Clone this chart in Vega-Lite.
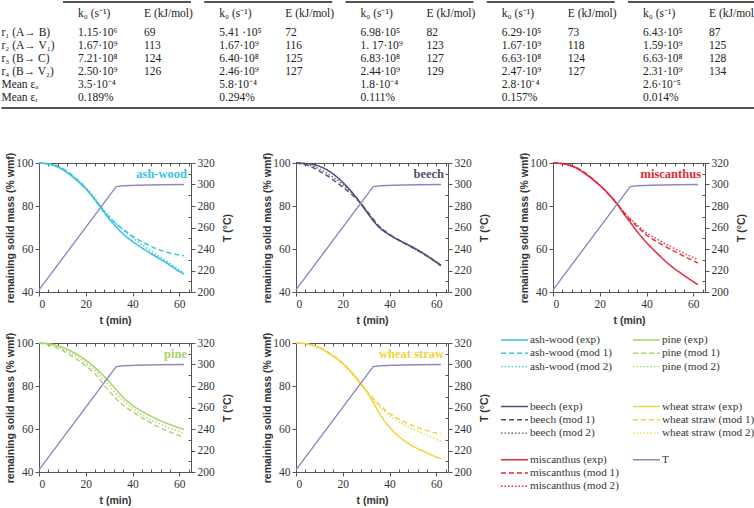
{
"$schema":"https://vega.github.io/schema/vega-lite/v6.json",
"padding":0,
"background":"white",
"columns":3,
"spacing":{"row":51,"column":105},
"bounds":"flush",
"align":"each",
"datasets":{
"curves":[
{"b":"ash-wood","t":0,"exp":100,"mod1":100,"mod2":100},{"b":"ash-wood","t":5,"exp":99.3,"mod1":99.5,"mod2":99.4},{"b":"ash-wood","t":10,"exp":97,"mod1":97.5,"mod2":97.4},{"b":"ash-wood","t":15,"exp":93,"mod1":93.5,"mod2":93.5},{"b":"ash-wood","t":20,"exp":88,"mod1":88.3,"mod2":88.6},{"b":"ash-wood","t":25,"exp":81.5,"mod1":81.2,"mod2":82},{"b":"ash-wood","t":28,"exp":77,"mod1":77,"mod2":77.8},{"b":"ash-wood","t":30,"exp":74,"mod1":74.8,"mod2":75.3},{"b":"ash-wood","t":33,"exp":70.3,"mod1":71.8,"mod2":71.8},{"b":"ash-wood","t":35,"exp":68,"mod1":70,"mod2":69.8},{"b":"ash-wood","t":40,"exp":63.5,"mod1":66,"mod2":65.3},{"b":"ash-wood","t":45,"exp":59.8,"mod1":62.8,"mod2":61.2},{"b":"ash-wood","t":50,"exp":56.5,"mod1":60.2,"mod2":57.5},{"b":"ash-wood","t":55,"exp":53.2,"mod1":58.4,"mod2":54},{"b":"ash-wood","t":60,"exp":49.6,"mod1":57.2,"mod2":50.3},{"b":"ash-wood","t":62,"exp":48.4,"mod1":56.9,"mod2":49},
{"b":"beech","t":0,"exp":100,"mod1":100,"mod2":100},{"b":"beech","t":5,"exp":99.7,"mod1":98.9,"mod2":99.3},{"b":"beech","t":10,"exp":98.5,"mod1":96.2,"mod2":97.2},{"b":"beech","t":15,"exp":95.6,"mod1":92.8,"mod2":94},{"b":"beech","t":20,"exp":91,"mod1":88.8,"mod2":90},{"b":"beech","t":25,"exp":85,"mod1":84.2,"mod2":84.8},{"b":"beech","t":28,"exp":80.7,"mod1":80.8,"mod2":80.9},{"b":"beech","t":30,"exp":77.6,"mod1":78.2,"mod2":77.9},{"b":"beech","t":33,"exp":73.2,"mod1":74,"mod2":73.5},{"b":"beech","t":35,"exp":70.7,"mod1":71.2,"mod2":70.9},{"b":"beech","t":40,"exp":66.6,"mod1":66.8,"mod2":66.6},{"b":"beech","t":45,"exp":63.6,"mod1":63.5,"mod2":63.4},{"b":"beech","t":50,"exp":60.8,"mod1":60.5,"mod2":60.6},{"b":"beech","t":55,"exp":57.6,"mod1":57.4,"mod2":57.5},{"b":"beech","t":60,"exp":54,"mod1":53.8,"mod2":53.6},{"b":"beech","t":62,"exp":52.5,"mod1":52.2,"mod2":52},
{"b":"miscanthus","t":0,"exp":100,"mod1":100,"mod2":100},{"b":"miscanthus","t":5,"exp":99.5,"mod1":99.6,"mod2":99.6},{"b":"miscanthus","t":10,"exp":97.6,"mod1":97.8,"mod2":97.8},{"b":"miscanthus","t":15,"exp":94,"mod1":94.3,"mod2":94.3},{"b":"miscanthus","t":20,"exp":89.6,"mod1":89.6,"mod2":89.8},{"b":"miscanthus","t":25,"exp":84,"mod1":84,"mod2":84.2},{"b":"miscanthus","t":28,"exp":80,"mod1":80.2,"mod2":80.4},{"b":"miscanthus","t":30,"exp":76.8,"mod1":77.4,"mod2":77.6},{"b":"miscanthus","t":33,"exp":72.5,"mod1":73.7,"mod2":74.2},{"b":"miscanthus","t":35,"exp":69.5,"mod1":71.5,"mod2":72.2},{"b":"miscanthus","t":40,"exp":63,"mod1":66.5,"mod2":67.5},{"b":"miscanthus","t":45,"exp":57.5,"mod1":63,"mod2":64.3},{"b":"miscanthus","t":50,"exp":52.5,"mod1":60,"mod2":61.3},{"b":"miscanthus","t":55,"exp":48.5,"mod1":57.2,"mod2":58.6},{"b":"miscanthus","t":60,"exp":44.8,"mod1":54.5,"mod2":56},{"b":"miscanthus","t":62,"exp":43.4,"mod1":53.5,"mod2":55},
{"b":"pine","t":0,"exp":100,"mod1":100,"mod2":100},{"b":"pine","t":5,"exp":99.5,"mod1":98.8,"mod2":99.2},{"b":"pine","t":10,"exp":98,"mod1":96.5,"mod2":97.3},{"b":"pine","t":15,"exp":95.5,"mod1":93.2,"mod2":94.4},{"b":"pine","t":20,"exp":92,"mod1":89.4,"mod2":90.8},{"b":"pine","t":25,"exp":87.5,"mod1":84.3,"mod2":86},{"b":"pine","t":28,"exp":84.3,"mod1":80.2,"mod2":82.2},{"b":"pine","t":30,"exp":82,"mod1":77.6,"mod2":80},{"b":"pine","t":33,"exp":78.3,"mod1":74,"mod2":76.3},{"b":"pine","t":35,"exp":75.8,"mod1":72,"mod2":74.2},{"b":"pine","t":40,"exp":71,"mod1":68,"mod2":69.7},{"b":"pine","t":45,"exp":67.6,"mod1":64.6,"mod2":66},{"b":"pine","t":50,"exp":64.8,"mod1":61.6,"mod2":63.2},{"b":"pine","t":55,"exp":62.5,"mod1":59.1,"mod2":60.8},{"b":"pine","t":60,"exp":60.5,"mod1":56.9,"mod2":58.8},{"b":"pine","t":62,"exp":59.8,"mod1":56.1,"mod2":58.2},
{"b":"wheat straw","t":0,"exp":100,"mod1":100,"mod2":100},{"b":"wheat straw","t":5,"exp":99.5,"mod1":99.6,"mod2":99.5},{"b":"wheat straw","t":10,"exp":97.8,"mod1":98,"mod2":97.9},{"b":"wheat straw","t":15,"exp":94.5,"mod1":94.8,"mod2":94.6},{"b":"wheat straw","t":20,"exp":90.5,"mod1":90.6,"mod2":90.4},{"b":"wheat straw","t":25,"exp":84.8,"mod1":84.6,"mod2":84.3},{"b":"wheat straw","t":28,"exp":80.8,"mod1":80.6,"mod2":80.2},{"b":"wheat straw","t":30,"exp":77.8,"mod1":78,"mod2":77.5},{"b":"wheat straw","t":33,"exp":72.5,"mod1":74.3,"mod2":73.6},{"b":"wheat straw","t":35,"exp":68.5,"mod1":72,"mod2":71.2},{"b":"wheat straw","t":40,"exp":60.8,"mod1":67.3,"mod2":66.3},{"b":"wheat straw","t":45,"exp":55.6,"mod1":64,"mod2":62.7},{"b":"wheat straw","t":50,"exp":52,"mod1":61.6,"mod2":60},{"b":"wheat straw","t":55,"exp":49.4,"mod1":59.6,"mod2":57.6},{"b":"wheat straw","t":60,"exp":47,"mod1":58.1,"mod2":55.2},{"b":"wheat straw","t":62,"exp":46.2,"mod1":57.7,"mod2":54.3}
],
"temp":[{"t":0,"T":202},{"t":33,"T":298},{"t":36,"T":298.8},{"t":42,"T":299.3},{"t":52,"T":299.7},{"t":62,"T":300}],
"legend":[
{"lab":"ash-wood (exp)","b":"ash-wood","m":"exp","c":0,"r":0},{"lab":"ash-wood (mod 1)","b":"ash-wood","m":"mod1","c":0,"r":1},{"lab":"ash-wood (mod 2)","b":"ash-wood","m":"mod2","c":0,"r":2},
{"lab":"beech (exp)","b":"beech","m":"exp","c":0,"r":5},{"lab":"beech (mod 1)","b":"beech","m":"mod1","c":0,"r":6},{"lab":"beech (mod 2)","b":"beech","m":"mod2","c":0,"r":7},
{"lab":"miscanthus (exp)","b":"miscanthus","m":"exp","c":0,"r":9},{"lab":"miscanthus (mod 1)","b":"miscanthus","m":"mod1","c":0,"r":10},{"lab":"miscanthus (mod 2)","b":"miscanthus","m":"mod2","c":0,"r":11},
{"lab":"pine (exp)","b":"pine","m":"exp","c":1,"r":0},{"lab":"pine (mod 1)","b":"pine","m":"mod1","c":1,"r":1},{"lab":"pine (mod 2)","b":"pine","m":"mod2","c":1,"r":2},
{"lab":"wheat straw (exp)","b":"wheat straw","m":"exp","c":1,"r":5},{"lab":"wheat straw (mod 1)","b":"wheat straw","m":"mod1","c":1,"r":6},{"lab":"wheat straw (mod 2)","b":"wheat straw","m":"mod2","c":1,"r":7},
{"lab":"T","b":"T","m":"exp","c":1,"r":9}
],
"groups":[{"g":0},{"g":1},{"g":2},{"g":3},{"g":4}],
"rowlab":[{"r":1,"text":"r₁ (A→ B)"},{"r":2,"text":"r₂ (A→ V₁)"},{"r":3,"text":"r₃ (B→ C)"},{"r":4,"text":"r₄ (B→ V₂)"},{"r":5,"text":"Mean εₐ"},{"r":6,"text":"Mean εᵣ"}],
"cells":[
{"r":1,"g":0,"k":"1.15·10⁶","e":"69"},{"r":1,"g":1,"k":"5.41 ·10⁵","e":"72"},{"r":1,"g":2,"k":"6.98·10⁵","e":"82"},{"r":1,"g":3,"k":"6.29·10⁵","e":"73"},{"r":1,"g":4,"k":"6.43·10⁵","e":"87"},
{"r":2,"g":0,"k":"1.67·10⁹","e":"113"},{"r":2,"g":1,"k":"1.67·10⁹","e":"116"},{"r":2,"g":2,"k":"1. 17·10⁹","e":"123"},{"r":2,"g":3,"k":"1.67·10⁹","e":"118"},{"r":2,"g":4,"k":"1.59·10⁹","e":"125"},
{"r":3,"g":0,"k":"7.21·10⁸","e":"124"},{"r":3,"g":1,"k":"6.40·10⁸","e":"125"},{"r":3,"g":2,"k":"6.83·10⁸","e":"127"},{"r":3,"g":3,"k":"6.63·10⁸","e":"124"},{"r":3,"g":4,"k":"6.63·10⁸","e":"128"},
{"r":4,"g":0,"k":"2.50·10⁹","e":"126"},{"r":4,"g":1,"k":"2.46·10⁹","e":"127"},{"r":4,"g":2,"k":"2.44·10⁹","e":"129"},{"r":4,"g":3,"k":"2.47·10⁹","e":"127"},{"r":4,"g":4,"k":"2.31·10⁹","e":"134"},
{"r":5,"g":0,"k":"3.5·10⁻⁴","e":""},{"r":5,"g":1,"k":"5.8·10⁻⁴","e":""},{"r":5,"g":2,"k":"1.8·10⁻⁴","e":""},{"r":5,"g":3,"k":"2.8·10⁻⁴","e":""},{"r":5,"g":4,"k":"2.6·10⁻⁵","e":""},
{"r":6,"g":0,"k":"0.189%","e":""},{"r":6,"g":1,"k":"0.294%","e":""},{"r":6,"g":2,"k":"0.111%","e":""},{"r":6,"g":3,"k":"0.157%","e":""},{"r":6,"g":4,"k":"0.014%","e":""}
]
},
"concat":[
{
"width":152,"height":112,
"view":{"fill":"white","stroke":null},
"layer":[
{"data":{"name":"groups"},"mark":{"type":"rule","x2Offset":128,"strokeWidth":1.8,"color":"#555"},
 "encoding":{"x":{"field":"g","type":"quantitative","scale":{"domain":[0,5],"range":[24,730.25]},"axis":null},"x2":{"field":"g"},"y":{"datum":-1.385,"type":"quantitative","scale":{"domain":[0,7],"range":[20,111]},"axis":null}}},
{"data":{"name":"groups"},"mark":{"type":"text","dx":15,"align":"left","baseline":"middle"},
 "encoding":{"x":{"field":"g","type":"quantitative"},"y":{"datum":-0.46,"type":"quantitative"},"text":{"value":"k₀ (s⁻¹)"}}},
{"data":{"name":"groups"},"mark":{"type":"text","dx":81,"align":"left","baseline":"middle"},
 "encoding":{"x":{"field":"g","type":"quantitative"},"y":{"datum":-0.46,"type":"quantitative"},"text":{"value":"E (kJ/mol)"}}},
{"data":{"name":"cells"},"mark":{"type":"text","dx":15,"align":"left","baseline":"middle"},
 "encoding":{"x":{"field":"g","type":"quantitative"},"y":{"field":"r","type":"quantitative"},"text":{"field":"k"}}},
{"data":{"name":"cells"},"mark":{"type":"text","dx":81,"align":"left","baseline":"middle"},
 "encoding":{"x":{"field":"g","type":"quantitative"},"y":{"field":"r","type":"quantitative"},"text":{"field":"e"}}},
{"data":{"name":"rowlab"},"mark":{"type":"text","align":"left","baseline":"middle"},
 "encoding":{"x":{"datum":-0.436,"type":"quantitative"},"y":{"field":"r","type":"quantitative"},"text":{"field":"text"}}},
{"data":{"values":[{"line":"bottom"}]},"mark":{"type":"rule","strokeWidth":2,"color":"#555"},
 "encoding":{"x":{"datum":-0.436,"type":"quantitative"},"x2":{"datum":4.9},"y":{"datum":6.77,"type":"quantitative"}}}
]
},
{"width":152,"height":112,"data":{"values":[{}]},"mark":{"type":"text","text":""},"encoding":{}},
{"width":152,"height":112,"data":{"values":[{}]},"mark":{"type":"text","text":""},"encoding":{}},
{"width":152,"height":129,
 "layer":[
  {"layer":[
   {"data":{"name":"curves"},"transform":[{"filter":"datum.b === 'ash-wood'"},{"fold":["exp","mod1","mod2"],"as":["m","v"]}],
    "mark":{"type":"line","interpolate":"monotone","strokeWidth":1.6},
    "encoding":{
     "x":{"field":"t","type":"quantitative","scale":{"domain":[0,65],"nice":false,"zero":false},"axis":{"orient":"bottom","values":[0,20,40,60],"tickSize":4,"title":"t (min)","titlePadding":6}},
     "y":{"field":"v","type":"quantitative","scale":{"domain":[40,100],"nice":false,"zero":false},"axis":{"orient":"left","values":[40,45,50,55,60,65,70,75,80,85,90,95,100],"labelOverlap":false,"labelExpr":"datum.value % 20 === 0 ? datum.label : ''","tickSize":{"condition":{"test":"datum.value % 20 === 0","value":4},"value":-3},"title":"remaining solid mass (% wmf)","titlePadding":0}},
     "color":{"field":"b","type":"nominal","scale":{"domain":["ash-wood","beech","miscanthus","pine","wheat straw","T"],"range":["#3cc2e2","#4d4f73","#e3283c","#a6d46a","#efd33a","#9386c2"]},"legend":null},
     "strokeDash":{"field":"m","type":"nominal","scale":{"domain":["exp","mod1","mod2"],"range":[[1,0],[5,3],[1.5,2]]},"legend":null},
     "opacity":{"field":"m","type":"nominal","scale":{"domain":["exp","mod1","mod2"],"range":[1,0.9,0.7]},"legend":null}}},
   {"data":{"values":[{"lab":"ash-wood"}]},"mark":{"type":"text","align":"right","baseline":"middle","dx":-4,"font":"Liberation Serif","fontWeight":"bold","fontSize":12.5},
    "encoding":{"x":{"datum":65,"type":"quantitative"},"y":{"datum":95,"type":"quantitative"},"text":{"field":"lab"},"color":{"field":"lab","type":"nominal","legend":null}}}
  ]},
  {"data":{"name":"temp"},"mark":{"type":"line","color":"#9386c2","strokeWidth":1.4},
   "encoding":{"x":{"field":"t","type":"quantitative","axis":{"orient":"bottom","values":[4,8,12,16,24,28,32,36,44,48,52,56,64],"labels":false,"title":null,"domain":false,"tickSize":-3}},
    "y":{"field":"T","type":"quantitative","scale":{"domain":[200,320],"nice":false,"zero":false},"axis":{"orient":"right","values":[200,210,220,230,240,250,260,270,280,290,300,310,320],"labelOverlap":false,"labelExpr":"datum.value % 20 === 0 ? datum.label : ''","tickSize":{"condition":{"test":"datum.value % 20 === 0","value":4},"value":-3},"title":"T (°C)","titleAngle":270,"titleBaseline":"top","titlePadding":8}}}},
  {"data":{"name":"temp"},"mark":{"type":"line","opacity":0},
   "encoding":{"x":{"field":"t","type":"quantitative","axis":{"orient":"top","values":[0,4,8,12,16,20,24,28,32,36,40,44,48,52,56,60,64],"labels":false,"title":null,"tickSize":-3}},
    "y":{"field":"T","type":"quantitative","scale":{"domain":[200,320],"nice":false,"zero":false},"axis":null}}}
 ],
 "resolve":{"scale":{"y":"independent"},"axis":{"x":"independent"}}},
{"width":152,"height":129,
 "layer":[
  {"layer":[
   {"data":{"name":"curves"},"transform":[{"filter":"datum.b === 'beech'"},{"fold":["exp","mod1","mod2"],"as":["m","v"]}],
    "mark":{"type":"line","interpolate":"monotone","strokeWidth":1.5},
    "encoding":{
     "x":{"field":"t","type":"quantitative","scale":{"domain":[0,65],"nice":false,"zero":false},"axis":{"orient":"bottom","values":[0,20,40,60],"tickSize":4,"title":"t (min)","titlePadding":6}},
     "y":{"field":"v","type":"quantitative","scale":{"domain":[40,100],"nice":false,"zero":false},"axis":{"orient":"left","values":[40,45,50,55,60,65,70,75,80,85,90,95,100],"labelOverlap":false,"labelExpr":"datum.value % 20 === 0 ? datum.label : ''","tickSize":{"condition":{"test":"datum.value % 20 === 0","value":4},"value":-3},"title":"remaining solid mass (% wmf)","titlePadding":0}},
     "color":{"field":"b","type":"nominal","legend":null},
     "strokeDash":{"field":"m","type":"nominal","legend":null},
     "opacity":{"field":"m","type":"nominal","legend":null}}},
   {"data":{"values":[{"lab":"beech"}]},"mark":{"type":"text","align":"right","baseline":"middle","dx":-4,"font":"Liberation Serif","fontWeight":"bold","fontSize":12.5},
    "encoding":{"x":{"datum":65,"type":"quantitative"},"y":{"datum":95,"type":"quantitative"},"text":{"field":"lab"},"color":{"field":"lab","type":"nominal","legend":null}}}
  ]},
  {"data":{"name":"temp"},"mark":{"type":"line","color":"#9386c2","strokeWidth":1.4},
   "encoding":{"x":{"field":"t","type":"quantitative","axis":{"orient":"bottom","values":[4,8,12,16,24,28,32,36,44,48,52,56,64],"labels":false,"title":null,"domain":false,"tickSize":-3}},
    "y":{"field":"T","type":"quantitative","scale":{"domain":[200,320],"nice":false,"zero":false},"axis":{"orient":"right","values":[200,210,220,230,240,250,260,270,280,290,300,310,320],"labelOverlap":false,"labelExpr":"datum.value % 20 === 0 ? datum.label : ''","tickSize":{"condition":{"test":"datum.value % 20 === 0","value":4},"value":-3},"title":"T (°C)","titleAngle":270,"titleBaseline":"top","titlePadding":8}}}},
  {"data":{"name":"temp"},"mark":{"type":"line","opacity":0},
   "encoding":{"x":{"field":"t","type":"quantitative","axis":{"orient":"top","values":[0,4,8,12,16,20,24,28,32,36,40,44,48,52,56,60,64],"labels":false,"title":null,"tickSize":-3}},
    "y":{"field":"T","type":"quantitative","scale":{"domain":[200,320],"nice":false,"zero":false},"axis":null}}}
 ],
 "resolve":{"scale":{"y":"independent"},"axis":{"x":"independent"}}},
{"width":152,"height":129,
 "layer":[
  {"layer":[
   {"data":{"name":"curves"},"transform":[{"filter":"datum.b === 'miscanthus'"},{"fold":["exp","mod1","mod2"],"as":["m","v"]}],
    "mark":{"type":"line","interpolate":"monotone","strokeWidth":1.5},
    "encoding":{
     "x":{"field":"t","type":"quantitative","scale":{"domain":[0,65],"nice":false,"zero":false},"axis":{"orient":"bottom","values":[0,20,40,60],"tickSize":4,"title":"t (min)","titlePadding":6}},
     "y":{"field":"v","type":"quantitative","scale":{"domain":[40,100],"nice":false,"zero":false},"axis":{"orient":"left","values":[40,45,50,55,60,65,70,75,80,85,90,95,100],"labelOverlap":false,"labelExpr":"datum.value % 20 === 0 ? datum.label : ''","tickSize":{"condition":{"test":"datum.value % 20 === 0","value":4},"value":-3},"title":"remaining solid mass (% wmf)","titlePadding":0}},
     "color":{"field":"b","type":"nominal","legend":null},
     "strokeDash":{"field":"m","type":"nominal","legend":null},
     "opacity":{"field":"m","type":"nominal","legend":null}}},
   {"data":{"values":[{"lab":"miscanthus"}]},"mark":{"type":"text","align":"right","baseline":"middle","dx":-4,"font":"Liberation Serif","fontWeight":"bold","fontSize":12.5},
    "encoding":{"x":{"datum":65,"type":"quantitative"},"y":{"datum":95,"type":"quantitative"},"text":{"field":"lab"},"color":{"field":"lab","type":"nominal","legend":null}}}
  ]},
  {"data":{"name":"temp"},"mark":{"type":"line","color":"#9386c2","strokeWidth":1.4},
   "encoding":{"x":{"field":"t","type":"quantitative","axis":{"orient":"bottom","values":[4,8,12,16,24,28,32,36,44,48,52,56,64],"labels":false,"title":null,"domain":false,"tickSize":-3}},
    "y":{"field":"T","type":"quantitative","scale":{"domain":[200,320],"nice":false,"zero":false},"axis":{"orient":"right","values":[200,210,220,230,240,250,260,270,280,290,300,310,320],"labelOverlap":false,"labelExpr":"datum.value % 20 === 0 ? datum.label : ''","tickSize":{"condition":{"test":"datum.value % 20 === 0","value":4},"value":-3},"title":"T (°C)","titleAngle":270,"titleBaseline":"top","titlePadding":8}}}},
  {"data":{"name":"temp"},"mark":{"type":"line","opacity":0},
   "encoding":{"x":{"field":"t","type":"quantitative","axis":{"orient":"top","values":[0,4,8,12,16,20,24,28,32,36,40,44,48,52,56,60,64],"labels":false,"title":null,"tickSize":-3}},
    "y":{"field":"T","type":"quantitative","scale":{"domain":[200,320],"nice":false,"zero":false},"axis":null}}}
 ],
 "resolve":{"scale":{"y":"independent"},"axis":{"x":"independent"}}},
{"width":152,"height":129,
 "layer":[
  {"layer":[
   {"data":{"name":"curves"},"transform":[{"filter":"datum.b === 'pine'"},{"fold":["exp","mod1","mod2"],"as":["m","v"]}],
    "mark":{"type":"line","interpolate":"monotone","strokeWidth":1.5},
    "encoding":{
     "x":{"field":"t","type":"quantitative","scale":{"domain":[0,65],"nice":false,"zero":false},"axis":{"orient":"bottom","values":[0,20,40,60],"tickSize":4,"title":"t (min)","titlePadding":6}},
     "y":{"field":"v","type":"quantitative","scale":{"domain":[40,100],"nice":false,"zero":false},"axis":{"orient":"left","values":[40,45,50,55,60,65,70,75,80,85,90,95,100],"labelOverlap":false,"labelExpr":"datum.value % 20 === 0 ? datum.label : ''","tickSize":{"condition":{"test":"datum.value % 20 === 0","value":4},"value":-3},"title":"remaining solid mass (% wmf)","titlePadding":0}},
     "color":{"field":"b","type":"nominal","legend":null},
     "strokeDash":{"field":"m","type":"nominal","legend":null},
     "opacity":{"field":"m","type":"nominal","legend":null}}},
   {"data":{"values":[{"lab":"pine"}]},"mark":{"type":"text","align":"right","baseline":"middle","dx":-4,"font":"Liberation Serif","fontWeight":"bold","fontSize":12.5},
    "encoding":{"x":{"datum":65,"type":"quantitative"},"y":{"datum":95,"type":"quantitative"},"text":{"field":"lab"},"color":{"field":"lab","type":"nominal","legend":null}}}
  ]},
  {"data":{"name":"temp"},"mark":{"type":"line","color":"#9386c2","strokeWidth":1.4},
   "encoding":{"x":{"field":"t","type":"quantitative","axis":{"orient":"bottom","values":[4,8,12,16,24,28,32,36,44,48,52,56,64],"labels":false,"title":null,"domain":false,"tickSize":-3}},
    "y":{"field":"T","type":"quantitative","scale":{"domain":[200,320],"nice":false,"zero":false},"axis":{"orient":"right","values":[200,210,220,230,240,250,260,270,280,290,300,310,320],"labelOverlap":false,"labelExpr":"datum.value % 20 === 0 ? datum.label : ''","tickSize":{"condition":{"test":"datum.value % 20 === 0","value":4},"value":-3},"title":"T (°C)","titleAngle":270,"titleBaseline":"top","titlePadding":8}}}},
  {"data":{"name":"temp"},"mark":{"type":"line","opacity":0},
   "encoding":{"x":{"field":"t","type":"quantitative","axis":{"orient":"top","values":[0,4,8,12,16,20,24,28,32,36,40,44,48,52,56,60,64],"labels":false,"title":null,"tickSize":-3}},
    "y":{"field":"T","type":"quantitative","scale":{"domain":[200,320],"nice":false,"zero":false},"axis":null}}}
 ],
 "resolve":{"scale":{"y":"independent"},"axis":{"x":"independent"}}},
{"width":152,"height":129,
 "layer":[
  {"layer":[
   {"data":{"name":"curves"},"transform":[{"filter":"datum.b === 'wheat straw'"},{"fold":["exp","mod1","mod2"],"as":["m","v"]}],
    "mark":{"type":"line","interpolate":"monotone","strokeWidth":1.5},
    "encoding":{
     "x":{"field":"t","type":"quantitative","scale":{"domain":[0,65],"nice":false,"zero":false},"axis":{"orient":"bottom","values":[0,20,40,60],"tickSize":4,"title":"t (min)","titlePadding":6}},
     "y":{"field":"v","type":"quantitative","scale":{"domain":[40,100],"nice":false,"zero":false},"axis":{"orient":"left","values":[40,45,50,55,60,65,70,75,80,85,90,95,100],"labelOverlap":false,"labelExpr":"datum.value % 20 === 0 ? datum.label : ''","tickSize":{"condition":{"test":"datum.value % 20 === 0","value":4},"value":-3},"title":"remaining solid mass (% wmf)","titlePadding":0}},
     "color":{"field":"b","type":"nominal","legend":null},
     "strokeDash":{"field":"m","type":"nominal","legend":null},
     "opacity":{"field":"m","type":"nominal","legend":null}}},
   {"data":{"values":[{"lab":"wheat straw"}]},"mark":{"type":"text","align":"right","baseline":"middle","dx":-4,"font":"Liberation Serif","fontWeight":"bold","fontSize":12.5},
    "encoding":{"x":{"datum":65,"type":"quantitative"},"y":{"datum":95,"type":"quantitative"},"text":{"field":"lab"},"color":{"field":"lab","type":"nominal","legend":null}}}
  ]},
  {"data":{"name":"temp"},"mark":{"type":"line","color":"#9386c2","strokeWidth":1.4},
   "encoding":{"x":{"field":"t","type":"quantitative","axis":{"orient":"bottom","values":[4,8,12,16,24,28,32,36,44,48,52,56,64],"labels":false,"title":null,"domain":false,"tickSize":-3}},
    "y":{"field":"T","type":"quantitative","scale":{"domain":[200,320],"nice":false,"zero":false},"axis":{"orient":"right","values":[200,210,220,230,240,250,260,270,280,290,300,310,320],"labelOverlap":false,"labelExpr":"datum.value % 20 === 0 ? datum.label : ''","tickSize":{"condition":{"test":"datum.value % 20 === 0","value":4},"value":-3},"title":"T (°C)","titleAngle":270,"titleBaseline":"top","titlePadding":8}}}},
  {"data":{"name":"temp"},"mark":{"type":"line","opacity":0},
   "encoding":{"x":{"field":"t","type":"quantitative","axis":{"orient":"top","values":[0,4,8,12,16,20,24,28,32,36,40,44,48,52,56,60,64],"labels":false,"title":null,"tickSize":-3}},
    "y":{"field":"T","type":"quantitative","scale":{"domain":[200,320],"nice":false,"zero":false},"axis":null}}}
 ],
 "resolve":{"scale":{"y":"independent"},"axis":{"x":"independent"}}},
{"width":152,"height":129,
 "data":{"name":"legend"},
 "layer":[
  {"mark":{"type":"rule","x2Offset":27,"strokeWidth":1.4},
   "encoding":{"x":{"field":"c","type":"quantitative","scale":{"domain":[0,1],"range":[-52,80]},"axis":null},"x2":{"field":"c"},
    "y":{"field":"r","type":"quantitative","scale":{"domain":[0,11],"range":[-3,143.3]},"axis":null},
    "color":{"field":"b","type":"nominal","legend":null},
    "strokeDash":{"field":"m","type":"nominal","legend":null}}},
  {"mark":{"type":"text","dx":29,"align":"left","baseline":"middle","font":"Liberation Serif","fontSize":11.2,"color":"#333"},
   "encoding":{"x":{"field":"c","type":"quantitative"},"y":{"field":"r","type":"quantitative"},"text":{"field":"lab"}}}
 ]}
],
"config":{
 "view":{"stroke":null},
 "axis":{"grid":false,"domainColor":"#555","tickColor":"#555","labelFont":"Liberation Serif","labelFontSize":11.5,"labelColor":"#333","labelPadding":2,"titleFont":"Liberation Sans","titleFontWeight":"bold","titleFontSize":10.5,"titleColor":"#333","titlePadding":4},
 "text":{"font":"Liberation Serif","fontSize":11.5,"color":"#222"}
}
}
